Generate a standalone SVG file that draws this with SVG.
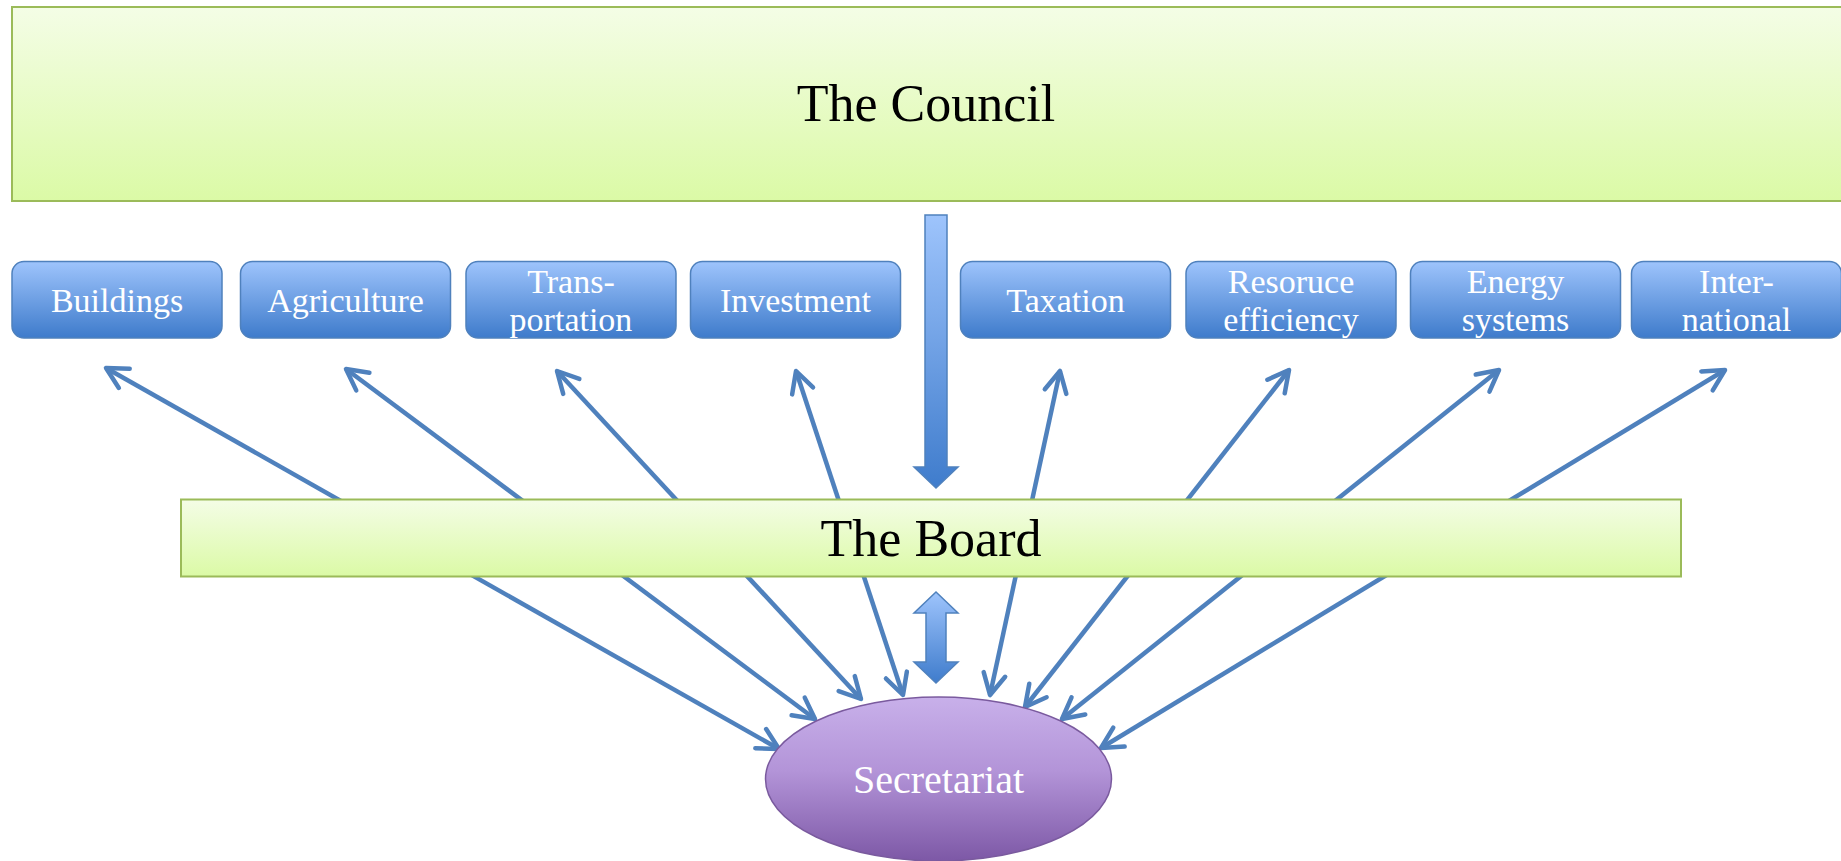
<svg xmlns="http://www.w3.org/2000/svg" width="1841" height="861" viewBox="0 0 1841 861">
  <defs>
    <linearGradient id="gGreen" x1="0" y1="0" x2="0" y2="1">
      <stop offset="0" stop-color="#f4fde6"/>
      <stop offset="1" stop-color="#dbfaa6"/>
    </linearGradient>
    <linearGradient id="gBlue" x1="0" y1="0" x2="0" y2="1">
      <stop offset="0" stop-color="#9ec4fc"/>
      <stop offset="1" stop-color="#3e7bcb"/>
    </linearGradient>
    <linearGradient id="gArrow" x1="0" y1="0" x2="0" y2="1">
      <stop offset="0" stop-color="#9ec4fc"/>
      <stop offset="1" stop-color="#3f7ccc"/>
    </linearGradient>
    <linearGradient id="gPurple" x1="0" y1="0" x2="0" y2="1">
      <stop offset="0" stop-color="#c8b0ea"/>
      <stop offset="0.45" stop-color="#b394d8"/>
      <stop offset="1" stop-color="#7d58a6"/>
    </linearGradient>
    <marker id="chev" viewBox="-26 -14 30 28" refX="0" refY="0" markerWidth="30" markerHeight="28" markerUnits="userSpaceOnUse" orient="auto-start-reverse">
      <path d="M-21,-11 L0,0 L-21,11" fill="none" stroke="#4f81bd" stroke-width="4.5" stroke-linecap="round" stroke-linejoin="round"/>
    </marker>
    <style>
      .green { fill: url(#gGreen); stroke: #9bbb59; stroke-width: 2; }
      .blue { fill: url(#gBlue); stroke: #4f81bd; stroke-width: 1.5; }
      .big { font-family: "Liberation Serif", serif; font-size: 52px; fill: #000; text-anchor: middle; }
      .small { font-family: "Liberation Serif", serif; font-size: 34px; fill: #fff; text-anchor: middle; }
      .conn { stroke: #4f81bd; stroke-width: 4.5; fill: none; marker-start: url(#chev); marker-end: url(#chev); }
      .fat { fill: url(#gArrow); stroke: #4f81bd; stroke-width: 1.5; }
    </style>
  </defs>

  <g id="connectors">
    <line class="conn" x1="106" y1="368" x2="779" y2="749"/>
    <line class="conn" x1="346" y1="369" x2="815" y2="719"/>
    <line class="conn" x1="557" y1="371" x2="861" y2="699"/>
    <line class="conn" x1="796" y1="371" x2="903" y2="695"/>
    <line class="conn" x1="1060" y1="371" x2="990" y2="695"/>
    <line class="conn" x1="1289" y1="370" x2="1025" y2="707"/>
    <line class="conn" x1="1499" y1="370" x2="1062" y2="719"/>
    <line class="conn" x1="1725" y1="370" x2="1101" y2="748"/>
    <polygon class="fat" points="925,215 947,215 947,467 958,467 936,488 914,467 925,467"/>
    <polygon class="fat" points="936,592 958,613 946,613 946,662 958,662 936,683 914,662 926,662 926,613 914,613"/>
  </g>

  <g id="council">
    <rect class="green" x="12" y="7" width="1840" height="194"/>
    <text class="big" x="926" y="121">The Council</text>
  </g>

  <g id="board">
    <rect class="green" x="181" y="499.5" width="1500" height="77"/>
    <text class="big" x="931" y="556">The Board</text>
  </g>

  <g id="buildings">
    <rect class="blue" x="12" y="261.5" width="210" height="76.5" rx="12"/>
    <text class="small" x="117" y="312">Buildings</text>
  </g>
  <g id="agriculture">
    <rect class="blue" x="240.5" y="261.5" width="210" height="76.5" rx="12"/>
    <text class="small" x="345.5" y="312">Agriculture</text>
  </g>
  <g id="transportation">
    <rect class="blue" x="466" y="261.5" width="210" height="76.5" rx="12"/>
    <text class="small" x="571" y="293">Trans-</text>
    <text class="small" x="571" y="331">portation</text>
  </g>
  <g id="investment">
    <rect class="blue" x="690.5" y="261.5" width="210" height="76.5" rx="12"/>
    <text class="small" x="795.5" y="312">Investment</text>
  </g>
  <g id="taxation">
    <rect class="blue" x="960.5" y="261.5" width="210" height="76.5" rx="12"/>
    <text class="small" x="1065.5" y="312">Taxation</text>
  </g>
  <g id="resource-efficiency">
    <rect class="blue" x="1186" y="261.5" width="210" height="76.5" rx="12"/>
    <text class="small" x="1291" y="293">Resoruce</text>
    <text class="small" x="1291" y="331">efficiency</text>
  </g>
  <g id="energy-systems">
    <rect class="blue" x="1410.5" y="261.5" width="210" height="76.5" rx="12"/>
    <text class="small" x="1515.5" y="293">Energy</text>
    <text class="small" x="1515.5" y="331">systems</text>
  </g>
  <g id="international">
    <rect class="blue" x="1631.5" y="261.5" width="210" height="76.5" rx="12"/>
    <text class="small" x="1736.5" y="293">Inter-</text>
    <text class="small" x="1736.5" y="331">national</text>
  </g>

  <g id="secretariat">
    <ellipse cx="938.5" cy="779" rx="173" ry="82" fill="url(#gPurple)" stroke="#7a5a9e" stroke-width="1.5"/>
    <text x="938.5" y="793" font-family="Liberation Serif, serif" font-size="40" fill="#fff" text-anchor="middle">Secretariat</text>
  </g>
</svg>
